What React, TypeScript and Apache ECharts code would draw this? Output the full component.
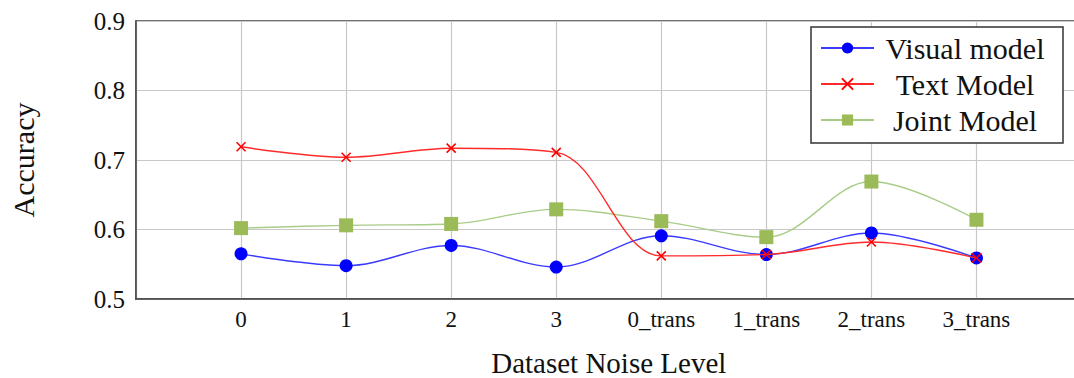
import React, { useEffect, useRef } from "react";
import * as echarts from "echarts";

const categories = ["0", "1", "2", "3", "0_trans", "1_trans", "2_trans", "3_trans"];
const visualModel = [0.565, 0.548, 0.577, 0.546, 0.591, 0.564, 0.595, 0.559];
const textModel = [0.719, 0.704, 0.717, 0.711, 0.562, 0.564, 0.582, 0.559];
const jointModel = [0.602, 0.606, 0.608, 0.629, 0.612, 0.589, 0.669, 0.614];
const yTicks = [0.5, 0.6, 0.7, 0.8, 0.9];

const FONT = "Liberation Serif";
const CROSS = "path://M0,0L10,10M10,0L0,10";

export default function App() {
  const ref = useRef<HTMLDivElement>(null);
  useEffect(() => {
    if (!ref.current) return;
    const chart = echarts.init(ref.current, undefined, { renderer: "svg" });
    const toPairs = (arr: number[]) => arr.map((v, i) => [i, v]);
    chart.setOption({
      animation: false,
      backgroundColor: "#ffffff",
      grid: {
        left: 136,
        top: 21,
        bottom: 79,
        right: -7.5,
        outerBoundsMode: "none",
        containLabel: false,
        show: true,
        borderColor: "#444",
        borderWidth: 1.5,
      },
      xAxis: {
        type: "value",
        min: -1,
        max: 8,
        interval: 1,
        name: "Dataset Noise Level",
        nameLocation: "middle",
        nameGap: 49,
        nameTextStyle: { fontFamily: FONT, fontSize: 29, lineHeight: 29, color: "#111" },
        axisLine: { show: true, onZero: false, lineStyle: { color: "#444", width: 1.5 } },
        axisTick: { show: false },
        axisLabel: {
          fontFamily: FONT,
          fontSize: 23,
          color: "#111",
          margin: 9,
          formatter: (v: number) =>
            v >= 0 && v < categories.length && Number.isInteger(v) ? categories[v] : "",
        },
        splitLine: {
          show: true,
          lineStyle: { color: "#c8c8c8", width: 1.2 },
        },
      },
      yAxis: {
        type: "value",
        min: yTicks[0],
        max: yTicks[yTicks.length - 1],
        interval: 0.1,
        name: "Accuracy",
        nameLocation: "middle",
        nameGap: 98,
        nameTextStyle: { fontFamily: FONT, fontSize: 30, color: "#111" },
        axisLine: { show: true, onZero: false, lineStyle: { color: "#444", width: 1.5 } },
        axisTick: { show: false },
        axisLabel: {
          fontFamily: FONT,
          fontSize: 25,
          color: "#111",
          margin: 11,
          formatter: (v: number) => v.toFixed(1),
        },
        splitLine: { show: true, lineStyle: { color: "#c8c8c8", width: 1.2 } },
      },
      legend: {
        orient: "vertical",
        left: 811,
        top: 27,
        backgroundColor: "#fff",
        borderColor: "#333",
        borderWidth: 1.5,
        borderRadius: 0,
        padding: [6, 12, 8, 9],
        itemWidth: 53,
        itemHeight: 14,
        itemGap: 6,
        formatter: (name: string) => "{a|" + name + "}",
        textStyle: {
          fontFamily: FONT,
          fontSize: 30,
          color: "#111",
          rich: {
            a: { width: 172, align: "center", fontFamily: FONT, fontSize: 30, lineHeight: 30, color: "#111" },
          },
        },
        data: ["Visual model", "Text Model", "Joint Model"],
      },
      series: [
        {
          name: "Visual model",
          type: "line",
          smooth: 0.35,
          data: toPairs(visualModel),
          symbol: "circle",
          symbolSize: 13,
          z: 3,
          lineStyle: { color: "#3a3aff", width: 1.4 },
          itemStyle: { color: "#0000ff" },
        },
        {
          name: "Text Model",
          type: "line",
          smooth: 0.35,
          data: toPairs(textModel),
          symbol: CROSS,
          symbolSize: 9,
          z: 4,
          lineStyle: { color: "#ff2a2a", width: 1.4 },
          itemStyle: { color: "#ff0000", borderColor: "#ff0000", borderWidth: 1.6 },
        },
        {
          name: "Joint Model",
          type: "line",
          smooth: 0.35,
          data: toPairs(jointModel),
          symbol: "rect",
          symbolSize: 14,
          z: 2,
          lineStyle: { color: "#a9cc88", width: 1.4 },
          itemStyle: { color: "#9bbb59" },
        },
      ],
    });
    return () => chart.dispose();
  }, []);
  return (
    <div
      ref={ref}
      style={{ position: "fixed", left: 0, top: 0, width: 1074, height: 378, background: "#fff" }}
    />
  );
}
